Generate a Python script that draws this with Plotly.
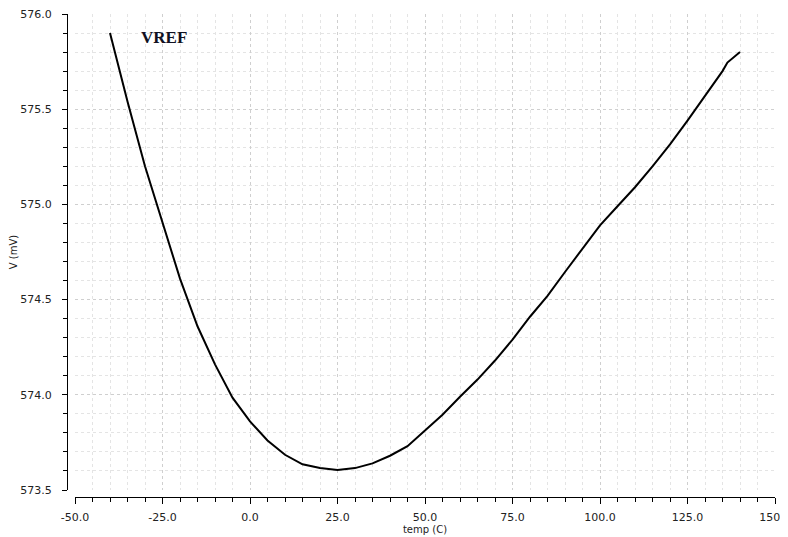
import plotly.graph_objects as go

temp_c = [-40, -35, -30, -25, -20, -15, -10, -5, 0, 5, 10, 15, 20, 25, 30, 35, 40, 45,
          50, 55, 60, 65, 70, 75, 80, 85, 90, 95, 100, 105, 110, 115, 120, 125, 130,
          135, 136.4, 140]
vref_mv = [575.90, 575.54, 575.20, 574.91, 574.61, 574.36, 574.16, 573.985, 573.86,
           573.76, 573.685, 573.635, 573.615, 573.605, 573.615, 573.64, 573.68, 573.73,
           573.81, 573.895, 573.99, 574.08, 574.18, 574.29, 574.41, 574.52, 574.645,
           574.77, 574.89, 574.99, 575.09, 575.20, 575.315, 575.44, 575.57, 575.70,
           575.745, 575.80]

x_ticks = [-50, -25, 0, 25, 50, 75, 100, 125, 150]
x_tick_text = ["-50.0", "-25.0", "0.0", "25.0", "50.0", "75.0", "100.0", "125.0", "150.0"]
y_ticks = [573.5, 574.0, 574.5, 575.0, 575.5, 576.0]
y_tick_text = ["573.5", "574.0", "574.5", "575.0", "575.5", "576.0"]

# the page body adds an 8px offset, so margins are reduced accordingly
W, H = 788, 537
ml, mr, mt, mb = 59, 21, 6, 48
pw = W - ml - mr
ph = H - mt - mb

fig = go.Figure()
fig.add_trace(go.Scatter(x=temp_c, y=vref_mv, mode="lines",
                         line=dict(color="#000000", width=2), showlegend=False))

font = dict(family="DejaVu Sans, Verdana, sans-serif", size=11, color="#222222")

fig.update_layout(
    width=W, height=H,
    margin=dict(l=ml, r=mr, t=mt, b=mb, pad=0),
    paper_bgcolor="white", plot_bgcolor="white",
    font=font,
    xaxis=dict(
        domain=[8 / pw, 1], anchor="free", position=0, automargin=False,
        range=[-50, 150], tickmode="array", tickvals=x_ticks, ticktext=x_tick_text,
        ticks="outside", ticklen=6, tickwidth=1, tickcolor="#000",
        showline=True, linecolor="#000", linewidth=1,
        showgrid=True, gridcolor="#cfcfcf", griddash="dot", gridwidth=1,
        zeroline=False,
        minor=dict(dtick=5, tick0=0, ticks="outside", ticklen=4, tickcolor="#000",
                   showgrid=True, gridcolor="#e4e4e4", griddash="dot", gridwidth=1),
        title=dict(text="temp (C)", font=dict(size=10, color="#222"), standoff=2),
        tickfont=dict(size=11),
        ticklabelstandoff=4,
        ticklabeloverflow="allow",
    ),
    yaxis=dict(
        domain=[7 / ph, 1], anchor="free", position=0, automargin=False,
        range=[573.5, 576.0], tickmode="array", tickvals=y_ticks, ticktext=y_tick_text,
        ticks="outside", ticklen=5, tickwidth=1, tickcolor="#000",
        showline=True, linecolor="#000", linewidth=1,
        showgrid=True, gridcolor="#cfcfcf", griddash="dot", gridwidth=1,
        zeroline=False,
        minor=dict(dtick=0.1, tick0=573.5, ticks="outside", ticklen=4, tickcolor="#000",
                   showgrid=True, gridcolor="#e4e4e4", griddash="dot", gridwidth=1),
        title=dict(text="V (mV)", font=dict(size=10, color="#222"), standoff=6),
        tickfont=dict(size=11),
        ticklabelstandoff=8,
        ticklabeloverflow="allow",
    ),
    annotations=[dict(
        x=-24.7, y=575.878, xref="x", yref="y", text="<b>VREF</b>", showarrow=False,
        font=dict(family="Liberation Serif, Times New Roman, serif", size=17, color="#111122"),
    )],
)

fig.write_html("out.html")
